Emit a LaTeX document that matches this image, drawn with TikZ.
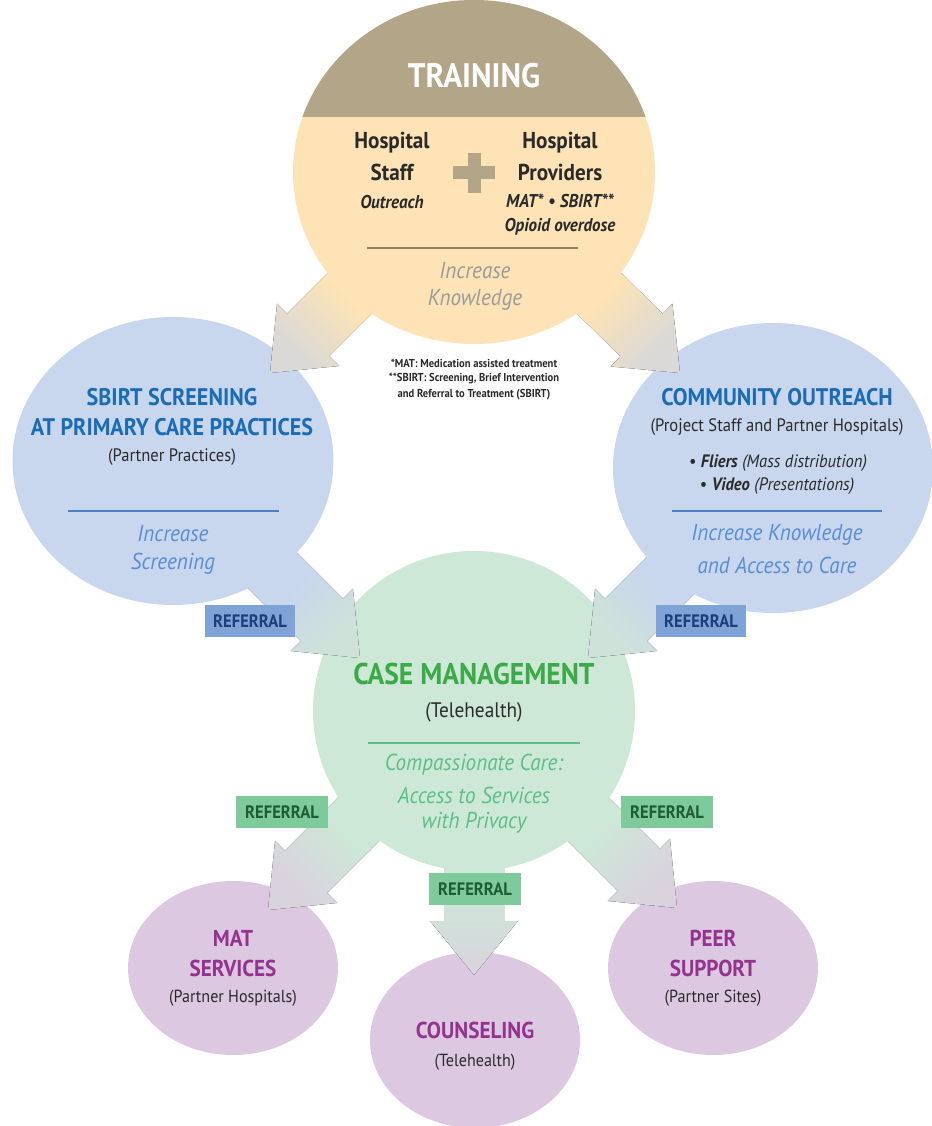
\documentclass[tikz,border=0pt]{standalone}
\usepackage{fontspec}
\setmainfont{PT Sans}[FakeStretch=0.92]
\usetikzlibrary{calc,shapes.geometric}
\definecolor{peach}{HTML}{FDE3B5}
\definecolor{tanhead}{HTML}{B3A587}
\definecolor{tanline}{HTML}{8C8372}
\definecolor{kgrey}{HTML}{9B9B9B}
\definecolor{bluefill}{HTML}{C8D6EE}
\definecolor{bluetitle}{HTML}{1A6CB4}
\definecolor{blueline}{HTML}{4B80C5}
\definecolor{blueital}{HTML}{5A8ED2}
\definecolor{greenfill}{HTML}{CDE8D6}
\definecolor{greentitle}{HTML}{3CAA48}
\definecolor{greenline}{HTML}{5DBF7E}
\definecolor{greenital}{HTML}{5CBF89}
\definecolor{purplefill}{HTML}{DCC8E1}
\definecolor{purpletitle}{HTML}{93338E}
\definecolor{refblue}{HTML}{7FA2D7}
\definecolor{refbluetxt}{HTML}{1C3E7B}
\definecolor{refgreen}{HTML}{7ECA9B}
\definecolor{refgreentxt}{HTML}{1E5C35}
\definecolor{darktxt}{HTML}{2A2A2A}
\definecolor{arrgrey}{HTML}{DAD9D7}
\definecolor{arrmid}{HTML}{CFE2D9}
\definecolor{arrlav}{HTML}{D9D3DE}
\newcommand{\fatarrow}[5]{%
  \path coordinate (fa-b) at ($(#2)!54pt!(#1)$);
  \fill[top color=#3, bottom color=#4, middle color=#3, shading angle=#5]
    ($(#1)!30pt!90:(#2)$) -- ($(fa-b)!30pt!90:(#2)$) -- ($(fa-b)!44pt!90:(#2)$)
    -- (#2) -- ($(fa-b)!44pt!-90:(#2)$) -- ($(fa-b)!30pt!-90:(#2)$)
    -- ($(#1)!30pt!-90:(#2)$) -- cycle;}
\begin{document}
\begin{tikzpicture}[x=1pt,y=-1pt,
  circ/.style={ellipse, inner sep=0pt, draw=none},
  ttl/.style={font=\bfseries\fontsize{24}{26}\selectfont},
  lttl/.style={font=\bfseries\fontsize{23}{25}\selectfont, text=purpletitle},
  sub/.style={text=darktxt, font=\fontsize{18}{20}\selectfont},
  lsub/.style={text=darktxt, font=\fontsize{17.5}{19}\selectfont},
  ital/.style={font=\itshape\fontsize{23}{25}\selectfont},
  hosp/.style={text=darktxt, font=\bfseries\fontsize{23}{25}\selectfont},
  bital/.style={text=darktxt, font=\bfseries\itshape\fontsize{18.5}{20}\selectfont},
  foot/.style={text=darktxt, font=\bfseries\fontsize{11.5}{13}\selectfont},
  refb/.style={fill=refblue, text=refbluetxt, font=\bfseries\fontsize{18}{20}\selectfont, minimum width=90pt, minimum height=32pt, inner sep=0pt},
  refg/.style={refb, fill=refgreen, text=refgreentxt, minimum width=92pt, minimum height=32pt},
  sepline/.style={line width=1.1pt}
]
\useasboundingbox (0,0) rectangle (931,1126);
\fill[white] (0,0) rectangle (931,1126);
% arrow end points
\coordinate (a1s) at (401,242); \coordinate (a1t) at (270,373);
\coordinate (a2s) at (547,242); \coordinate (a2t) at (680,373);
\coordinate (a3s) at (238,536); \coordinate (a3t) at (360,658);
\coordinate (a4s) at (710,536); \coordinate (a4t) at (588,658);
\coordinate (a5s) at (406,772); \coordinate (a5t) at (268,910);
\coordinate (a6s) at (543,774); \coordinate (a6t) at (677,908);
\coordinate (a7s) at (474,800); \coordinate (a7t) at (474,975);
% lower circles
\node[circ, fill=purplefill, minimum width=210pt, minimum height=174pt] (mat) at (233,968) {};
\node[circ, fill=purplefill, minimum width=210pt, minimum height=176pt] (couns) at (475,1040) {};
\node[circ, fill=purplefill, minimum width=210pt, minimum height=174pt] (peer) at (713,968) {};
\fatarrow{a5s}{a5t}{greenfill}{arrlav}{315}
\fatarrow{a6s}{a6t}{greenfill}{arrlav}{45}
\fatarrow{a7s}{a7t}{greenfill}{arrlav}{0}
% case management circle
\node[circ, fill=greenfill, minimum width=322pt, minimum height=320pt] (case) at (474,711) {};
\fatarrow{a3s}{a3t}{bluefill}{arrmid}{45}
\fatarrow{a4s}{a4t}{bluefill}{arrmid}{315}
% blue circles
\node[circ, fill=bluefill, minimum width=321pt, minimum height=288pt] (sbirt) at (173,461) {};
\node[circ, fill=bluefill, minimum width=320pt, minimum height=290pt] (comm) at (773,468) {};
\fatarrow{a1s}{a1t}{peach}{arrgrey}{315}
\fatarrow{a2s}{a2t}{peach}{arrgrey}{45}
% training circle
\node[circ, fill=peach, minimum width=362pt, minimum height=344pt] (train) at (474,172) {};
\begin{scope}
  \clip (train.center) ellipse [x radius=181pt, y radius=172pt];
  \fill[tanhead] (280,-20) rectangle (670,117);
\end{scope}
% plus sign
\node[fill=tanhead, minimum width=42pt, minimum height=13pt, inner sep=0pt] (plush) at (474,173) {};
\node[fill=tanhead, minimum width=13pt, minimum height=40pt, inner sep=0pt] (plusv) at (474,173) {};
% referral boxes
\node[refb] (r1) at (250,621) {REFERRAL};
\node[refb] (r2) at (701,621) {REFERRAL};
\node[refg] (r3) at (282,812) {REFERRAL};
\node[refg] (r4) at (667,812) {REFERRAL};
\node[refg] (r5) at (475,889) {REFERRAL};
% training texts
\node[text=white, font=\bfseries\fontsize{34}{36}\selectfont] (ttrain) at (474,76) {TRAINING};
\node[hosp] (hs1) at (392,143) {Hospital};
\node[hosp] (hs2) at (392,172) {Staff};
\node[bital] (hs3) at (392,202) {Outreach};
\node[hosp] (hp1) at (560,143) {Hospital};
\node[hosp] (hp2) at (560,172) {Providers};
\node[bital] (hp3) at (560,201) {MAT* • SBIRT**};
\node[bital] (hp4) at (560,227) {Opioid overdose};
\coordinate (tl1) at (367,248); \coordinate (tl2) at (578,248);
\draw[sepline, tanline] (tl1) -- (tl2);
\node[ital, text=kgrey] (tk1) at (475,271) {Increase};
\node[ital, text=kgrey] (tk2) at (475,300) {Knowledge};
% footnote
\node[foot] (fn1) at (474,363) {*MAT: Medication assisted treatment};
\node[foot] (fn2) at (474,379) {**SBIRT: Screening, Brief Intervention};
\node[foot] (fn3) at (474,395) {and Referral to Treatment (SBIRT)};
% sbirt texts
\node[ttl, text=bluetitle] (st1) at (172,397) {SBIRT SCREENING};
\node[ttl, text=bluetitle] (st2) at (172,427) {AT PRIMARY CARE PRACTICES};
\node[sub] (st3) at (172,457) {(Partner Practices)};
\coordinate (sl1) at (68,511); \coordinate (sl2) at (279,511);
\draw[sepline, blueline] (sl1) -- (sl2);
\node[ital, text=blueital] (si1) at (173,534) {Increase};
\node[ital, text=blueital] (si2) at (173,564) {Screening};
% community texts
\node[ttl, text=bluetitle] (ct1) at (777,397) {COMMUNITY OUTREACH};
\node[sub] (ct2) at (777,427) {(Project Staff and Partner Hospitals)};
\node[text=darktxt, font=\fontsize{18}{20}\selectfont] (ct3) at (778,463) {• \textbf{\textit{Fliers}} \textit{(Mass distribution)}};
\node[text=darktxt, font=\fontsize{18}{20}\selectfont] (ct4) at (777,486) {• \textbf{\textit{Video}} \textit{(Presentations)}};
\coordinate (cl1) at (672,511); \coordinate (cl2) at (882,511);
\draw[sepline, blueline] (cl1) -- (cl2);
\node[ital, text=blueital] (ci1) at (777,535) {Increase Knowledge};
\node[ital, text=blueital] (ci2) at (777,565) {and Access to Care};
% case management texts
\node[text=greentitle, font=\bfseries\fontsize{30}{32}\selectfont] (mt1) at (474,674) {CASE MANAGEMENT};
\node[text=darktxt, font=\fontsize{21}{23}\selectfont] (mt2) at (474,712) {(Telehealth)};
\coordinate (ml1) at (368,743); \coordinate (ml2) at (580,743);
\draw[sepline, greenline] (ml1) -- (ml2);
\node[ital, text=greenital] (mi1) at (474,765) {Compassionate Care:};
\node[ital, text=greenital] (mi2) at (474,795) {Access to Services};
\node[ital, text=greenital] (mi3) at (474,823) {with Privacy};
% lower circles texts
\node[lttl] (pt1) at (233,938) {MAT};
\node[lttl] (pt2) at (233,968) {SERVICES};
\node[lsub] (pt3) at (233,998) {(Partner Hospitals)};
\node[lttl] (ot1) at (475,1030) {COUNSELING};
\node[lsub] (ot2) at (475,1062) {(Telehealth)};
\node[lttl] (qt1) at (713,938) {PEER};
\node[lttl] (qt2) at (713,968) {SUPPORT};
\node[lsub] (qt3) at (713,998) {(Partner Sites)};
\end{tikzpicture}
\end{document}
